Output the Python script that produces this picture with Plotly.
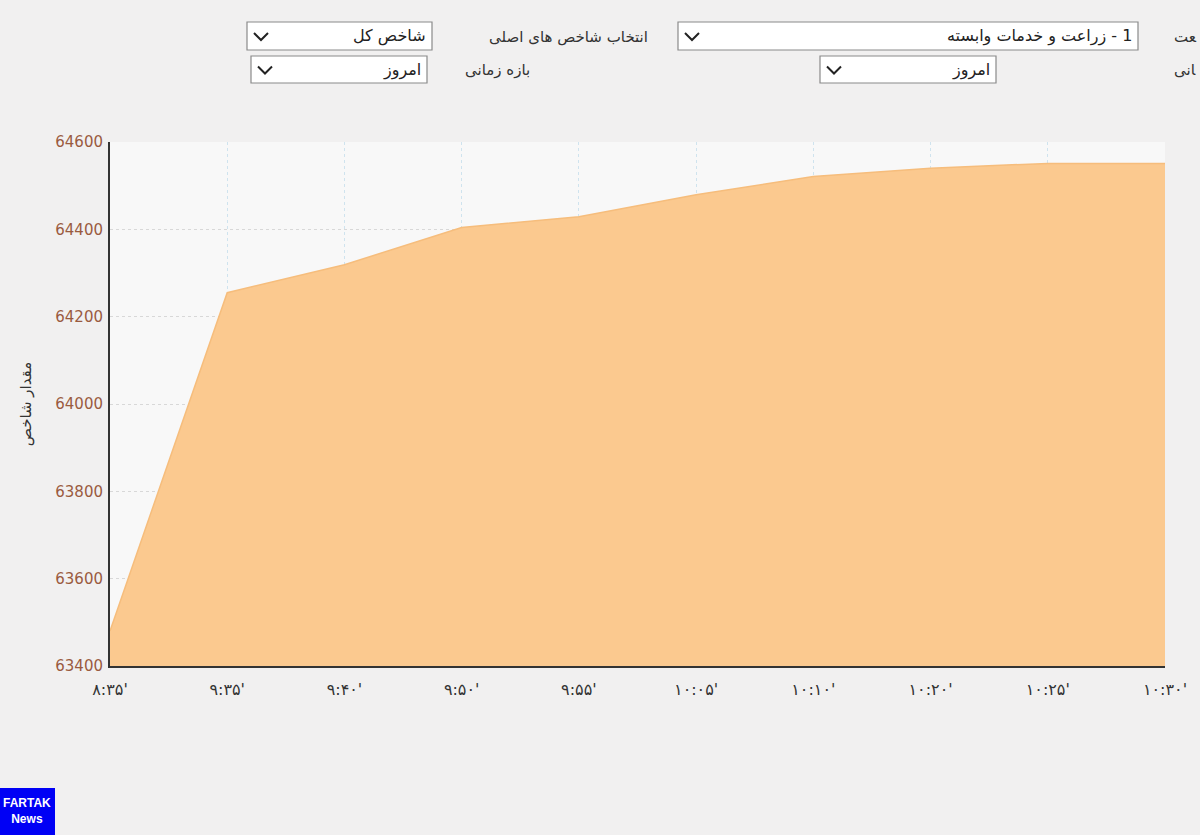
import plotly.graph_objects as go

# time labels (Persian digits) and index values
times = ["۸:۳۵'", "۹:۳۵'", "۹:۴۰'", "۹:۵۰'", "۹:۵۵'",
         "۱۰:۰۵'", "۱۰:۱۰'", "۱۰:۲۰'", "۱۰:۲۵'", "۱۰:۳۰'"]
index_values = [63480, 64255, 64319, 64404, 64429,
                64479, 64521, 64540, 64551, 64551]
y_ticks = [63400, 63600, 63800, 64000, 64200, 64400, 64600]

W, H = 1200, 835
L, R, T, B = 110, 35, 142, 169
FONT = "DejaVu Sans, Noto Sans, sans-serif"
RLM = "\u200f"
ZWJ = "\u200d"


def px(x):
    return (x - L) / (W - L - R)


def py(y):
    return (H - B - y) / (H - T - B)


fig = go.Figure()

fig.add_trace(go.Scatter(
    x=times,
    y=index_values,
    mode='lines',
    fill='tozeroy',
    fillcolor='#fbc98f',
    line=dict(color='#f6bd7c', width=1.5),
    hovertemplate='%{x}<br>%{y}<extra></extra>',
))

shapes = []
annotations = []


def dropdown(x0, x1, y0, y1, text):
    shapes.append(dict(type='rect', xref='paper', yref='paper',
                       x0=px(x0), x1=px(x1), y0=py(y1), y1=py(y0),
                       fillcolor='white', line=dict(color='#8a8a8a', width=1.2)))
    cx, cy = x0 + 14, (y0 + y1) / 2
    shapes.append(dict(type='path', xref='paper', yref='paper',
                       path=f"M {px(cx - 7)},{py(cy - 3)} L {px(cx)},{py(cy + 4)} L {px(cx + 7)},{py(cy - 3)}",
                       line=dict(color='#222', width=2)))
    annotations.append(dict(text=RLM + text, xref='paper', yref='paper',
                            x=px(x1 - 4), y=py((y0 + y1) / 2), xanchor='right', yanchor='middle',
                            showarrow=False, font=dict(size=16, color='#222', family=FONT)))


def label(x, y, text, anchor='right'):
    annotations.append(dict(text=text, xref='paper', yref='paper',
                            x=px(x), y=py(y), xanchor=anchor, yanchor='middle',
                            showarrow=False, font=dict(size=15, color='#333', family=FONT)))


dropdown(247, 432, 22, 50, 'شاخص کل')
label(650, 37, 'انتخاب شاخص های اصلی')
dropdown(678, 1138, 22, 50, '1 - زراعت و خدمات وابسته')
# labels cut by the right edge in the original screenshot
label(1172, 37, ZWJ + 'عت', anchor='left')
dropdown(251, 427, 56, 83, 'امروز')
label(532, 70, 'بازه زمانی')
dropdown(820, 996, 56, 83, 'امروز')
label(1172, 70, ZWJ + 'انی', anchor='left')

# FARTAK News badge
shapes.append(dict(type='rect', xref='paper', yref='paper',
                   x0=px(0), x1=px(55), y0=py(835), y1=py(788),
                   fillcolor='#0000f5', line=dict(width=0)))
annotations.append(dict(text='<b>FARTAK</b><br><b>News</b>', xref='paper', yref='paper',
                        x=px(27), y=py(811), xanchor='center', yanchor='middle',
                        showarrow=False, align='center',
                        font=dict(size=12, color='white', family='Liberation Sans, Arial')))

fig.update_layout(
    width=W, height=H,
    margin=dict(l=L, r=R, t=T, b=B),
    paper_bgcolor='#f1f0f0',
    plot_bgcolor='#f8f8f8',
    showlegend=False,
    shapes=shapes,
    annotations=annotations,
    font=dict(family=FONT),
)

fig.update_xaxes(
    type='category',
    range=[0, len(times) - 1],
    showgrid=True, gridcolor='#cfe3ee', griddash='dot', gridwidth=1,
    showline=True, linecolor='#333', linewidth=2,
    ticks='', tickfont=dict(size=16, color='#333', family=FONT),
    ticklabelstandoff=8,
    fixedrange=True,
)

fig.update_yaxes(
    range=[63400, 64600],
    tickvals=y_ticks,
    tickformat='d',
    showgrid=True, gridcolor='#d8d8d8', griddash='dot', gridwidth=1,
    showline=True, linecolor='#333', linewidth=2,
    zeroline=False,
    ticks='', tickfont=dict(size=15, color='#9a5b3f', family=FONT),
    ticklabelstandoff=2,
    title=dict(text='مقدار شاخص', font=dict(size=15, color='#333', family=FONT), standoff=20),
    fixedrange=True,
)

fig.write_html("out.html", config={'displayModeBar': False},
               post_script="document.body.style.margin='0';")
